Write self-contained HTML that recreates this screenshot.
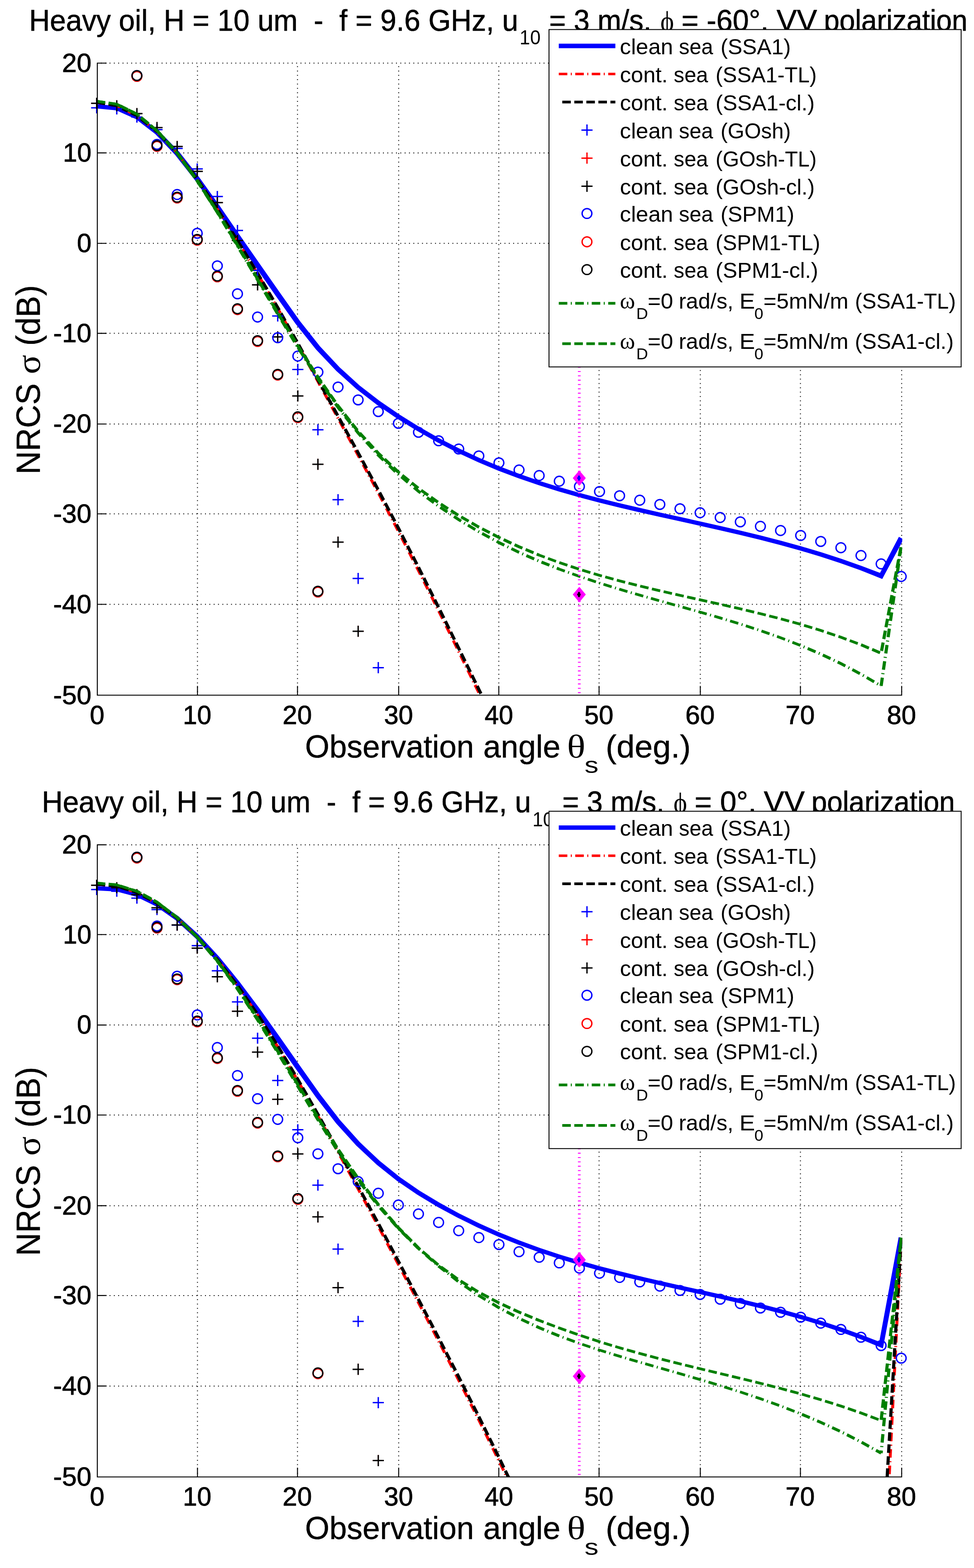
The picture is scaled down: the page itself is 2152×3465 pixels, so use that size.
<!DOCTYPE html>
<html lang="en"><head><meta charset="utf-8"><title>NRCS vs observation angle</title>
<style>html,body{margin:0;padding:0;background:#fff}svg text{fill:#000}</style></head>
<body>
<svg width="2152" height="3465" viewBox="0 0 2152 3465" style="display:block">
<rect width="2152" height="3465" fill="#fff"/>
<g id="plot1">
<clipPath id="clip1"><rect x="214.0" y="138.5" width="1779.4" height="1398.3"/></clipPath>
<path d="M436.3,1536.3V139.5M657.3,1536.3V139.5M880.9,1536.3V139.5M1102.1,1536.3V139.5M1323.6,1536.3V139.5M1547.3,1536.3V139.5M1768.5,1536.3V139.5M1992.2,1536.3V139.5" stroke="#000" stroke-width="2" stroke-dasharray="2 7.59" stroke-dashoffset="2.6" fill="none"/>
<path d="M215.0,1335.5H1992.2M215.0,1135.5H1992.2M215.0,937.0H1992.2M215.0,736.6H1992.2M215.0,537.7H1992.2M215.0,337.9H1992.2M215.0,139.5H1992.2" stroke="#000" stroke-width="2" stroke-dasharray="2 7.59" stroke-dashoffset="1.8" fill="none"/>
<g clip-path="url(#clip1)">
<path d="M213.2,239.6 L256.8,243.8 L299.9,263.1 L343.4,296.4 L387.1,342.4 L431.2,398.8 L475.5,460.8 L519.9,525.6 L564.4,589.6 L608.8,653.2 L653.4,716.0 L698.2,772.3 L743.1,819.7 L787.9,860.0 L832.7,894.5 L877.4,924.9 L922.1,952.6 L966.7,977.8 L1011.3,1000.6 L1056.0,1021.2 L1100.6,1039.9 L1145.2,1056.7 L1189.8,1072.0 L1234.3,1085.9 L1278.9,1098.7 L1323.4,1110.4 L1367.9,1121.4 L1412.4,1131.9 L1456.9,1141.9 L1501.3,1151.8 L1545.8,1161.7 L1590.2,1171.7 L1634.6,1182.0 L1679.0,1192.7 L1723.3,1204.2 L1767.7,1216.5 L1812.0,1229.7 L1856.3,1244.2 L1900.6,1259.9 L1949.3,1279.4 L1996.3,1191.6 L1986.1,1186.2 L1944.3,1266.0 L1904.0,1250.8 L1859.4,1235.0 L1814.9,1220.6 L1770.3,1207.3 L1725.8,1195.0 L1681.3,1183.5 L1636.8,1172.7 L1592.3,1162.4 L1547.8,1152.4 L1503.4,1142.6 L1459.0,1132.7 L1414.5,1122.6 L1370.2,1112.2 L1325.8,1101.2 L1281.4,1089.5 L1237.1,1076.8 L1192.8,1062.9 L1148.5,1047.6 L1104.2,1030.8 L1059.9,1012.2 L1015.7,991.6 L971.5,968.9 L927.2,943.8 L883.0,916.3 L838.8,886.1 L794.7,851.9 L750.7,812.0 L706.7,764.9 L662.6,709.2 L618.3,646.6 L573.9,583.0 L529.4,519.0 L485.0,454.2 L440.4,392.0 L395.6,335.1 L350.5,288.4 L305.1,254.3 L259.3,234.4 L214.0,230.2Z" fill="#0000ff" stroke="none"/>
<path d="M213.6,226.6 L258.0,233.8" fill="none" stroke="#ff0000" stroke-width="5.5" stroke-linejoin="miter" stroke-miterlimit="10" stroke-dasharray="18.9 7.6 2.3 7.6"/><path d="M258.0,233.8 L302.5,255.7 L346.9,290.9" fill="none" stroke="#ff0000" stroke-width="6.0" stroke-linejoin="miter" stroke-miterlimit="10" stroke-dasharray="18.9 7.6 2.3 7.6" stroke-dashoffset="8.6"/><path d="M346.9,290.9 L391.4,338.4 L435.8,396.5 L480.2,462.4 L524.7,532.7 L569.1,605.4 L613.6,681.6 L658.0,761.4 L702.4,842.7 L746.9,924.2 L791.3,1006.1 L835.8,1089.0 L880.2,1174.0 L924.6,1260.8 L969.1,1349.5 L1013.5,1439.7 L1058.0,1530.8 L1102.4,1622.2 L1946.8,2700.0 L1991.2,1700.0" fill="none" stroke="#ff0000" stroke-width="6.5" stroke-linejoin="miter" stroke-miterlimit="10" stroke-dasharray="18.9 7.6 2.3 7.6" stroke-dashoffset="5.7"/>
<path d="M213.6,226.6 L258.0,233.8" fill="none" stroke="#000000" stroke-width="6.0" stroke-linejoin="miter" stroke-miterlimit="10" stroke-dasharray="18.9 7.7"/><path d="M258.0,233.8 L302.5,255.7 L346.9,290.9" fill="none" stroke="#000000" stroke-width="6.5" stroke-linejoin="miter" stroke-miterlimit="10" stroke-dasharray="18.9 7.7" stroke-dashoffset="18.4"/><path d="M346.9,290.9 L391.4,338.4 L435.8,396.5 L480.2,461.9 L524.7,531.7 L569.1,603.9 L613.6,679.6 L658.0,758.6 L702.4,839.2 L746.9,919.7 L791.3,1000.6 L835.8,1082.8 L880.2,1167.0 L924.6,1253.7 L969.1,1342.4 L1013.5,1432.5 L1058.0,1523.5 L1102.4,1614.9 L1946.8,2600.0 L1991.2,1700.0" fill="none" stroke="#000000" stroke-width="7.0" stroke-linejoin="miter" stroke-miterlimit="10" stroke-dasharray="18.9 7.7" stroke-dashoffset="18.3"/>
</g>
<path d="M201.3,238.3H225.9M213.6,226.0V250.6" stroke="#0000ff" stroke-width="3.0" fill="none"/><path d="M245.7,240.6H270.3M258.0,228.3V252.9" stroke="#0000ff" stroke-width="3.0" fill="none"/><path d="M290.2,258.7H314.8M302.5,246.4V271.0" stroke="#0000ff" stroke-width="3.0" fill="none"/><path d="M334.6,286.5H359.2M346.9,274.2V298.8" stroke="#0000ff" stroke-width="3.0" fill="none"/><path d="M379.1,328.0H403.7M391.4,315.7V340.3" stroke="#0000ff" stroke-width="3.0" fill="none"/><path d="M423.5,373.3H448.1M435.8,361.0V385.6" stroke="#0000ff" stroke-width="3.0" fill="none"/><path d="M467.9,434.3H492.5M480.2,422.0V446.6" stroke="#0000ff" stroke-width="3.0" fill="none"/><path d="M512.4,509.3H537.0M524.7,497.0V521.6" stroke="#0000ff" stroke-width="3.0" fill="none"/><path d="M556.8,597.4H581.4M569.1,585.1V609.7" stroke="#0000ff" stroke-width="3.0" fill="none"/><path d="M601.3,698.3H625.9M613.6,686.0V710.6" stroke="#0000ff" stroke-width="3.0" fill="none"/><path d="M645.7,816.4H670.3M658.0,804.1V828.7" stroke="#0000ff" stroke-width="3.0" fill="none"/><path d="M690.1,949.8H714.7M702.4,937.5V962.1" stroke="#0000ff" stroke-width="3.0" fill="none"/><path d="M734.6,1104.3H759.2M746.9,1092.0V1116.6" stroke="#0000ff" stroke-width="3.0" fill="none"/><path d="M779.0,1278.3H803.6M791.3,1266.0V1290.6" stroke="#0000ff" stroke-width="3.0" fill="none"/><path d="M823.5,1475.4H848.1M835.8,1463.1V1487.7" stroke="#0000ff" stroke-width="3.0" fill="none"/><path d="M201.3,228.3H225.9M213.6,216.0V240.6" stroke="#ff0000" stroke-width="2.0" fill="none"/><path d="M245.7,233.8H270.3M258.0,221.5V246.1" stroke="#ff0000" stroke-width="2.0" fill="none"/><path d="M290.2,251.1H314.8M302.5,238.8V263.4" stroke="#ff0000" stroke-width="2.0" fill="none"/><path d="M334.6,281.9H359.2M346.9,269.6V294.2" stroke="#ff0000" stroke-width="2.0" fill="none"/><path d="M379.1,323.7H403.7M391.4,311.4V336.0" stroke="#ff0000" stroke-width="2.0" fill="none"/><path d="M423.5,378.7H448.1M435.8,366.4V391.0" stroke="#ff0000" stroke-width="2.0" fill="none"/><path d="M467.9,447.7H492.5M480.2,435.4V460.0" stroke="#ff0000" stroke-width="2.0" fill="none"/><path d="M512.4,531.6H537.0M524.7,519.3V543.9" stroke="#ff0000" stroke-width="2.0" fill="none"/><path d="M556.8,629.5H581.4M569.1,617.2V641.8" stroke="#ff0000" stroke-width="2.0" fill="none"/><path d="M601.3,744.5H625.9M613.6,732.2V756.8" stroke="#ff0000" stroke-width="2.0" fill="none"/><path d="M645.7,875.0H670.3M658.0,862.7V887.3" stroke="#ff0000" stroke-width="2.0" fill="none"/><path d="M690.1,1026.0H714.7M702.4,1013.7V1038.3" stroke="#ff0000" stroke-width="2.0" fill="none"/><path d="M734.6,1198.0H759.2M746.9,1185.7V1210.3" stroke="#ff0000" stroke-width="2.0" fill="none"/><path d="M779.0,1395.0H803.6M791.3,1382.7V1407.3" stroke="#ff0000" stroke-width="2.0" fill="none"/><path d="M201.3,228.3H225.9M213.6,216.0V240.6" stroke="#000000" stroke-width="3.0" fill="none"/><path d="M245.7,233.8H270.3M258.0,221.5V246.1" stroke="#000000" stroke-width="3.0" fill="none"/><path d="M290.2,251.1H314.8M302.5,238.8V263.4" stroke="#000000" stroke-width="3.0" fill="none"/><path d="M334.6,281.9H359.2M346.9,269.6V294.2" stroke="#000000" stroke-width="3.0" fill="none"/><path d="M379.1,323.7H403.7M391.4,311.4V336.0" stroke="#000000" stroke-width="3.0" fill="none"/><path d="M423.5,378.7H448.1M435.8,366.4V391.0" stroke="#000000" stroke-width="3.0" fill="none"/><path d="M467.9,447.7H492.5M480.2,435.4V460.0" stroke="#000000" stroke-width="3.0" fill="none"/><path d="M512.4,531.6H537.0M524.7,519.3V543.9" stroke="#000000" stroke-width="3.0" fill="none"/><path d="M556.8,629.5H581.4M569.1,617.2V641.8" stroke="#000000" stroke-width="3.0" fill="none"/><path d="M601.3,744.5H625.9M613.6,732.2V756.8" stroke="#000000" stroke-width="3.0" fill="none"/><path d="M645.7,875.0H670.3M658.0,862.7V887.3" stroke="#000000" stroke-width="3.0" fill="none"/><path d="M690.1,1026.0H714.7M702.4,1013.7V1038.3" stroke="#000000" stroke-width="3.0" fill="none"/><path d="M734.6,1198.0H759.2M746.9,1185.7V1210.3" stroke="#000000" stroke-width="3.0" fill="none"/><path d="M779.0,1395.0H803.6M791.3,1382.7V1407.3" stroke="#000000" stroke-width="3.0" fill="none"/><ellipse cx="302.5" cy="167.0" rx="10.8" ry="10.8" stroke="#0000ff" stroke-width="3.0" fill="none"/><ellipse cx="346.9" cy="319.0" rx="10.8" ry="10.8" stroke="#0000ff" stroke-width="3.0" fill="none"/><ellipse cx="391.4" cy="429.9" rx="10.8" ry="10.8" stroke="#0000ff" stroke-width="3.0" fill="none"/><ellipse cx="435.8" cy="515.5" rx="10.8" ry="10.8" stroke="#0000ff" stroke-width="3.0" fill="none"/><ellipse cx="480.2" cy="587.5" rx="10.8" ry="10.8" stroke="#0000ff" stroke-width="3.0" fill="none"/><ellipse cx="524.7" cy="649.3" rx="10.8" ry="10.8" stroke="#0000ff" stroke-width="3.0" fill="none"/><ellipse cx="569.1" cy="700.6" rx="10.8" ry="10.8" stroke="#0000ff" stroke-width="3.0" fill="none"/><ellipse cx="613.6" cy="746.2" rx="10.8" ry="10.8" stroke="#0000ff" stroke-width="3.0" fill="none"/><ellipse cx="658.0" cy="786.9" rx="10.8" ry="10.8" stroke="#0000ff" stroke-width="3.0" fill="none"/><ellipse cx="702.4" cy="822.3" rx="10.8" ry="10.8" stroke="#0000ff" stroke-width="3.0" fill="none"/><ellipse cx="746.9" cy="855.3" rx="10.8" ry="10.8" stroke="#0000ff" stroke-width="3.0" fill="none"/><ellipse cx="791.3" cy="883.7" rx="10.8" ry="10.8" stroke="#0000ff" stroke-width="3.0" fill="none"/><ellipse cx="835.8" cy="909.5" rx="10.8" ry="10.8" stroke="#0000ff" stroke-width="3.0" fill="none"/><ellipse cx="880.2" cy="935.5" rx="10.8" ry="10.8" stroke="#0000ff" stroke-width="3.0" fill="none"/><ellipse cx="924.6" cy="955.2" rx="10.8" ry="10.8" stroke="#0000ff" stroke-width="3.0" fill="none"/><ellipse cx="969.1" cy="974.0" rx="10.8" ry="10.8" stroke="#0000ff" stroke-width="3.0" fill="none"/><ellipse cx="1013.5" cy="992.2" rx="10.8" ry="10.8" stroke="#0000ff" stroke-width="3.0" fill="none"/><ellipse cx="1058.0" cy="1007.5" rx="10.8" ry="10.8" stroke="#0000ff" stroke-width="3.0" fill="none"/><ellipse cx="1102.4" cy="1022.8" rx="10.8" ry="10.8" stroke="#0000ff" stroke-width="3.0" fill="none"/><ellipse cx="1146.8" cy="1038.6" rx="10.8" ry="10.8" stroke="#0000ff" stroke-width="3.0" fill="none"/><ellipse cx="1191.3" cy="1050.9" rx="10.8" ry="10.8" stroke="#0000ff" stroke-width="3.0" fill="none"/><ellipse cx="1235.7" cy="1063.4" rx="10.8" ry="10.8" stroke="#0000ff" stroke-width="3.0" fill="none"/><ellipse cx="1280.2" cy="1075.0" rx="10.8" ry="10.8" stroke="#0000ff" stroke-width="3.0" fill="none"/><ellipse cx="1324.6" cy="1086.2" rx="10.8" ry="10.8" stroke="#0000ff" stroke-width="3.0" fill="none"/><ellipse cx="1369.0" cy="1095.5" rx="10.8" ry="10.8" stroke="#0000ff" stroke-width="3.0" fill="none"/><ellipse cx="1413.5" cy="1105.4" rx="10.8" ry="10.8" stroke="#0000ff" stroke-width="3.0" fill="none"/><ellipse cx="1457.9" cy="1114.7" rx="10.8" ry="10.8" stroke="#0000ff" stroke-width="3.0" fill="none"/><ellipse cx="1502.4" cy="1124.3" rx="10.8" ry="10.8" stroke="#0000ff" stroke-width="3.0" fill="none"/><ellipse cx="1546.8" cy="1133.1" rx="10.8" ry="10.8" stroke="#0000ff" stroke-width="3.0" fill="none"/><ellipse cx="1591.2" cy="1143.6" rx="10.8" ry="10.8" stroke="#0000ff" stroke-width="3.0" fill="none"/><ellipse cx="1635.7" cy="1153.2" rx="10.8" ry="10.8" stroke="#0000ff" stroke-width="3.0" fill="none"/><ellipse cx="1680.1" cy="1163.1" rx="10.8" ry="10.8" stroke="#0000ff" stroke-width="3.0" fill="none"/><ellipse cx="1724.6" cy="1172.4" rx="10.8" ry="10.8" stroke="#0000ff" stroke-width="3.0" fill="none"/><ellipse cx="1769.0" cy="1183.3" rx="10.8" ry="10.8" stroke="#0000ff" stroke-width="3.0" fill="none"/><ellipse cx="1813.4" cy="1196.5" rx="10.8" ry="10.8" stroke="#0000ff" stroke-width="3.0" fill="none"/><ellipse cx="1857.9" cy="1210.4" rx="10.8" ry="10.8" stroke="#0000ff" stroke-width="3.0" fill="none"/><ellipse cx="1902.3" cy="1227.6" rx="10.8" ry="10.8" stroke="#0000ff" stroke-width="3.0" fill="none"/><ellipse cx="1946.8" cy="1246.1" rx="10.8" ry="10.8" stroke="#0000ff" stroke-width="3.0" fill="none"/><ellipse cx="1991.2" cy="1273.9" rx="10.8" ry="10.8" stroke="#0000ff" stroke-width="3.0" fill="none"/><ellipse cx="302.5" cy="168.7" rx="10.8" ry="10.8" stroke="#ff0000" stroke-width="3.0" fill="none"/><ellipse cx="346.9" cy="323.4" rx="10.8" ry="10.8" stroke="#ff0000" stroke-width="3.0" fill="none"/><ellipse cx="391.4" cy="437.5" rx="10.8" ry="10.8" stroke="#ff0000" stroke-width="3.0" fill="none"/><ellipse cx="435.8" cy="530.7" rx="10.8" ry="10.8" stroke="#ff0000" stroke-width="3.0" fill="none"/><ellipse cx="480.2" cy="611.7" rx="10.8" ry="10.8" stroke="#ff0000" stroke-width="3.0" fill="none"/><ellipse cx="524.7" cy="684.1" rx="10.8" ry="10.8" stroke="#ff0000" stroke-width="3.0" fill="none"/><ellipse cx="569.1" cy="754.5" rx="10.8" ry="10.8" stroke="#ff0000" stroke-width="3.0" fill="none"/><ellipse cx="613.6" cy="828.9" rx="10.8" ry="10.8" stroke="#ff0000" stroke-width="3.0" fill="none"/><ellipse cx="658.0" cy="922.8" rx="10.8" ry="10.8" stroke="#ff0000" stroke-width="3.0" fill="none"/><ellipse cx="702.4" cy="1308.2" rx="10.8" ry="10.8" stroke="#ff0000" stroke-width="3.0" fill="none"/><ellipse cx="302.5" cy="167.0" rx="10.8" ry="10.8" stroke="#000000" stroke-width="3.0" fill="none"/><ellipse cx="346.9" cy="321.7" rx="10.8" ry="10.8" stroke="#000000" stroke-width="3.0" fill="none"/><ellipse cx="391.4" cy="435.8" rx="10.8" ry="10.8" stroke="#000000" stroke-width="3.0" fill="none"/><ellipse cx="435.8" cy="529.0" rx="10.8" ry="10.8" stroke="#000000" stroke-width="3.0" fill="none"/><ellipse cx="480.2" cy="610.0" rx="10.8" ry="10.8" stroke="#000000" stroke-width="3.0" fill="none"/><ellipse cx="524.7" cy="682.4" rx="10.8" ry="10.8" stroke="#000000" stroke-width="3.0" fill="none"/><ellipse cx="569.1" cy="752.8" rx="10.8" ry="10.8" stroke="#000000" stroke-width="3.0" fill="none"/><ellipse cx="613.6" cy="827.2" rx="10.8" ry="10.8" stroke="#000000" stroke-width="3.0" fill="none"/><ellipse cx="658.0" cy="921.1" rx="10.8" ry="10.8" stroke="#000000" stroke-width="3.0" fill="none"/><ellipse cx="702.4" cy="1306.5" rx="10.8" ry="10.8" stroke="#000000" stroke-width="3.0" fill="none"/>
<g clip-path="url(#clip1)">
<path d="M213.6,223.7 L258.0,230.5" fill="none" stroke="#007f00" stroke-width="6.0" stroke-linejoin="miter" stroke-miterlimit="10" stroke-dasharray="18.9 7.6 2.3 7.6"/><path d="M258.0,230.5 L302.5,252.4 L346.9,288.6" fill="none" stroke="#007f00" stroke-width="6.5" stroke-linejoin="miter" stroke-miterlimit="10" stroke-dasharray="18.9 7.6 2.3 7.6" stroke-dashoffset="8.6"/><path d="M346.9,288.6 L391.4,338.1 L435.8,399.5 L480.2,469.2 L524.7,543.2 L569.1,618.2 L613.6,693.6 L658.0,767.2 L702.4,836.5 L746.9,900.0 L791.3,956.6 L835.8,1005.6 L880.2,1048.3" fill="none" stroke="#007f00" stroke-width="7.0" stroke-linejoin="miter" stroke-miterlimit="10" stroke-dasharray="18.9 7.6 2.3 7.6" stroke-dashoffset="6.2"/><path d="M880.2,1048.3 L924.6,1085.6 L969.1,1118.6 L1013.5,1148.3 L1058.0,1175.0 L1102.4,1199.0 L1146.8,1220.6 L1191.3,1240.1 L1235.7,1257.7" fill="none" stroke="#007f00" stroke-width="6.5" stroke-linejoin="miter" stroke-miterlimit="10" stroke-dasharray="18.9 7.6 2.3 7.6" stroke-dashoffset="27.8"/><path d="M1235.7,1257.7 L1280.2,1273.7 L1324.6,1288.5 L1369.0,1302.2 L1413.5,1315.2 L1457.9,1327.8 L1502.4,1340.1 L1546.8,1352.6 L1591.2,1365.5 L1635.7,1379.0 L1680.1,1393.5 L1724.6,1409.2 L1769.0,1426.4" fill="none" stroke="#007f00" stroke-width="6.0" stroke-linejoin="miter" stroke-miterlimit="10" stroke-dasharray="18.9 7.6 2.3 7.6" stroke-dashoffset="5.9"/><path d="M1769.0,1426.4 L1813.4,1445.3 L1857.9,1466.4 L1902.3,1489.8 L1946.8,1515.8" fill="none" stroke="#007f00" stroke-width="6.5" stroke-linejoin="miter" stroke-miterlimit="10" stroke-dasharray="18.9 7.6 2.3 7.6" stroke-dashoffset="19.5"/><path d="M1946.8,1515.8 L1991.2,1206.0" fill="none" stroke="#007f00" stroke-width="7.0" stroke-linejoin="miter" stroke-miterlimit="10" stroke-dasharray="18.9 7.6 2.3 7.6" stroke-dashoffset="0.3"/>
<path d="M213.6,223.9 L258.0,230.1" fill="none" stroke="#007f00" stroke-width="6.0" stroke-linejoin="miter" stroke-miterlimit="10" stroke-dasharray="18.9 7.7"/><path d="M258.0,230.1 L302.5,252.3 L346.9,288.9" fill="none" stroke="#007f00" stroke-width="6.5" stroke-linejoin="miter" stroke-miterlimit="10" stroke-dasharray="18.9 7.7" stroke-dashoffset="18.3"/><path d="M346.9,288.9 L391.4,338.5 L435.8,399.3 L480.2,468.1 L524.7,541.5 L569.1,616.3 L613.6,691.2 L658.0,764.3 L702.4,833.5 L746.9,897.1 L791.3,953.4 L835.8,1001.7 L880.2,1043.2" fill="none" stroke="#007f00" stroke-width="7.0" stroke-linejoin="miter" stroke-miterlimit="10" stroke-dasharray="18.9 7.7" stroke-dashoffset="19.1"/><path d="M880.2,1043.2 L924.6,1079.1 L969.1,1110.8 L1013.5,1139.2 L1058.0,1164.8 L1102.4,1187.7 L1146.8,1208.3 L1191.3,1226.7" fill="none" stroke="#007f00" stroke-width="6.5" stroke-linejoin="miter" stroke-miterlimit="10" stroke-dasharray="18.9 7.7" stroke-dashoffset="15.4"/><path d="M1191.3,1226.7 L1235.7,1243.2 L1280.2,1258.0 L1324.6,1271.4 L1369.0,1283.7 L1413.5,1294.9 L1457.9,1305.5 L1502.4,1315.6 L1546.8,1325.5 L1591.2,1335.3 L1635.7,1345.4 L1680.1,1356.1 L1724.6,1367.4 L1769.0,1379.7 L1813.4,1393.2 L1857.9,1408.2 L1902.3,1424.8" fill="none" stroke="#007f00" stroke-width="6.0" stroke-linejoin="miter" stroke-miterlimit="10" stroke-dasharray="18.9 7.7" stroke-dashoffset="5.8"/><path d="M1902.3,1424.8 L1946.8,1443.4" fill="none" stroke="#007f00" stroke-width="6.5" stroke-linejoin="miter" stroke-miterlimit="10" stroke-dasharray="18.9 7.7" stroke-dashoffset="26.5"/><path d="M1946.8,1443.4 L1991.2,1206.0" fill="none" stroke="#007f00" stroke-width="7.0" stroke-linejoin="miter" stroke-miterlimit="10" stroke-dasharray="18.9 7.7" stroke-dashoffset="21.5"/>
</g>
<path d="M1279.9,139.5V1536.3" stroke="#ff00ff" stroke-width="6" stroke-dasharray="2.1 7.49" stroke-dashoffset="0.5" fill="none"/>
<path d="M1265.5,1056.5L1279.9,1039.4L1294.3,1056.5L1279.9,1073.6Z" fill="#ff00ff"/>
<path d="M1279.3,1050.9v11.2" stroke="#0000ff" stroke-width="4.4" fill="none"/><path d="M1275.3,1056.5h7.6" stroke="#0000ff" stroke-width="4" fill="none"/>
<path d="M1265.5,1313.8L1279.9,1296.7L1294.3,1313.8L1279.9,1330.9Z" fill="#ff00ff"/>
<path d="M1279.3,1308.2v11.2" stroke="#000000" stroke-width="4.4" fill="none"/><path d="M1275.3,1313.8h7.6" stroke="#000000" stroke-width="4" fill="none"/>
<path d="M215.0,139.5V1536.3H1992.2M215.0,1536.3v-19.5M436.3,1536.3v-19.5M657.3,1536.3v-19.5M880.9,1536.3v-19.5M1102.1,1536.3v-19.5M1323.6,1536.3v-19.5M1547.3,1536.3v-19.5M1768.5,1536.3v-19.5M1992.2,1536.3v-19.5M215.0,1536.3h19.5M215.0,1335.5h19.5M215.0,1135.5h19.5M215.0,937.0h19.5M215.0,736.6h19.5M215.0,537.7h19.5M215.0,337.9h19.5M215.0,139.5h19.5" stroke="#000" stroke-width="2.1" fill="none" stroke-linecap="square"/>
<text x="198.5" y="1599.9" font-size="57" font-family="'Liberation Sans', sans-serif" textLength="32.2" lengthAdjust="spacingAndGlyphs" stroke="#000" stroke-width="0.9" stroke-linejoin="round">0</text>
<text x="404.0" y="1599.9" font-size="57" font-family="'Liberation Sans', sans-serif" textLength="63.2" lengthAdjust="spacingAndGlyphs" stroke="#000" stroke-width="0.9" stroke-linejoin="round">10</text>
<text x="624.2" y="1599.9" font-size="57" font-family="'Liberation Sans', sans-serif" textLength="64.9" lengthAdjust="spacingAndGlyphs" stroke="#000" stroke-width="0.9" stroke-linejoin="round">20</text>
<text x="848.4" y="1599.9" font-size="57" font-family="'Liberation Sans', sans-serif" textLength="64.3" lengthAdjust="spacingAndGlyphs" stroke="#000" stroke-width="0.9" stroke-linejoin="round">30</text>
<text x="1070.8" y="1599.9" font-size="57" font-family="'Liberation Sans', sans-serif" textLength="63.1" lengthAdjust="spacingAndGlyphs" stroke="#000" stroke-width="0.9" stroke-linejoin="round">40</text>
<text x="1291.1" y="1599.9" font-size="57" font-family="'Liberation Sans', sans-serif" textLength="64.3" lengthAdjust="spacingAndGlyphs" stroke="#000" stroke-width="0.9" stroke-linejoin="round">50</text>
<text x="1514.2" y="1599.9" font-size="57" font-family="'Liberation Sans', sans-serif" textLength="64.9" lengthAdjust="spacingAndGlyphs" stroke="#000" stroke-width="0.9" stroke-linejoin="round">60</text>
<text x="1735.4" y="1599.9" font-size="57" font-family="'Liberation Sans', sans-serif" textLength="64.9" lengthAdjust="spacingAndGlyphs" stroke="#000" stroke-width="0.9" stroke-linejoin="round">70</text>
<text x="1959.4" y="1599.9" font-size="57" font-family="'Liberation Sans', sans-serif" textLength="64.6" lengthAdjust="spacingAndGlyphs" stroke="#000" stroke-width="0.9" stroke-linejoin="round">80</text>
<text x="117.5" y="1555.5" font-size="57" font-family="'Liberation Sans', sans-serif" textLength="84.6" lengthAdjust="spacingAndGlyphs" stroke="#000" stroke-width="0.9" stroke-linejoin="round">-50</text>
<text x="117.5" y="1354.7" font-size="57" font-family="'Liberation Sans', sans-serif" textLength="84.6" lengthAdjust="spacingAndGlyphs" stroke="#000" stroke-width="0.9" stroke-linejoin="round">-40</text>
<text x="117.5" y="1154.7" font-size="57" font-family="'Liberation Sans', sans-serif" textLength="84.6" lengthAdjust="spacingAndGlyphs" stroke="#000" stroke-width="0.9" stroke-linejoin="round">-30</text>
<text x="117.5" y="956.2" font-size="57" font-family="'Liberation Sans', sans-serif" textLength="84.6" lengthAdjust="spacingAndGlyphs" stroke="#000" stroke-width="0.9" stroke-linejoin="round">-20</text>
<text x="117.5" y="755.8" font-size="57" font-family="'Liberation Sans', sans-serif" textLength="84.6" lengthAdjust="spacingAndGlyphs" stroke="#000" stroke-width="0.9" stroke-linejoin="round">-10</text>
<text x="169.9" y="556.9" font-size="57" font-family="'Liberation Sans', sans-serif" textLength="32.2" lengthAdjust="spacingAndGlyphs" stroke="#000" stroke-width="0.9" stroke-linejoin="round">0</text>
<text x="138.9" y="357.1" font-size="57" font-family="'Liberation Sans', sans-serif" textLength="63.2" lengthAdjust="spacingAndGlyphs" stroke="#000" stroke-width="0.9" stroke-linejoin="round">10</text>
<text x="136.9" y="158.7" font-size="57" font-family="'Liberation Sans', sans-serif" textLength="65.3" lengthAdjust="spacingAndGlyphs" stroke="#000" stroke-width="0.9" stroke-linejoin="round">20</text>
<text x="673.9" y="1673.9" font-size="70.5" font-family="'Liberation Sans', sans-serif" textLength="373.5" lengthAdjust="spacingAndGlyphs" stroke="#000" stroke-width="0.5" stroke-linejoin="round">Observation</text>
<text x="1067.7" y="1673.9" font-size="70.5" font-family="'Liberation Sans', sans-serif" textLength="170.7" lengthAdjust="spacingAndGlyphs" stroke="#000" stroke-width="0.5" stroke-linejoin="round">angle</text>
<text x="1252.8" y="1673.9" font-size="72" font-family="'Liberation Serif', serif" textLength="40.7" lengthAdjust="spacingAndGlyphs">&#952;</text>
<text x="1291.6" y="1708.2" font-size="49.5" font-family="'Liberation Sans', sans-serif" textLength="30.8" lengthAdjust="spacingAndGlyphs">s</text>
<text x="1338.3" y="1673.9" font-size="70.5" font-family="'Liberation Sans', sans-serif" textLength="187.8" lengthAdjust="spacingAndGlyphs" stroke="#000" stroke-width="0.5" stroke-linejoin="round">(deg.)</text>
<g transform="translate(88.2,1042.5) rotate(-90)">
<text x="-5.7" y="0.0" font-size="74" font-family="'Liberation Sans', sans-serif" textLength="201.1" lengthAdjust="spacingAndGlyphs" stroke="#000" stroke-width="0.5" stroke-linejoin="round">NRCS</text>
<text x="215.8" y="0.0" font-size="74" font-family="'Liberation Serif', serif" textLength="42.8" lengthAdjust="spacingAndGlyphs">&#963;</text>
<text x="278.2" y="0.0" font-size="74" font-family="'Liberation Sans', sans-serif" textLength="134.1" lengthAdjust="spacingAndGlyphs" stroke="#000" stroke-width="0.5" stroke-linejoin="round">(dB)</text>
</g>
<text x="64.2" y="67.6" font-size="66" font-family="'Liberation Sans', sans-serif" textLength="1080.7" lengthAdjust="spacingAndGlyphs" stroke="#000" stroke-width="0.7" stroke-linejoin="round">Heavy oil, H = 10 um &#160;- &#160;f = 9.6 GHz, u</text>
<text x="1148.1" y="98.4" font-size="44" font-family="'Liberation Sans', sans-serif" textLength="46.4" lengthAdjust="spacingAndGlyphs">10</text>
<text x="1213.6" y="67.6" font-size="66" font-family="'Liberation Sans', sans-serif" textLength="225.6" lengthAdjust="spacingAndGlyphs" stroke="#000" stroke-width="0.7" stroke-linejoin="round">= 3 m/s,</text>
<text x="1459.0" y="67.6" font-size="64" font-family="'Liberation Serif', serif" textLength="30.1" lengthAdjust="spacingAndGlyphs">&#981;</text>
<text x="1505.8" y="67.6" font-size="66" font-family="'Liberation Sans', sans-serif" textLength="192.5" lengthAdjust="spacingAndGlyphs" stroke="#000" stroke-width="0.7" stroke-linejoin="round">= -60&#176;,</text>
<text x="1715.7" y="67.6" font-size="66" font-family="'Liberation Sans', sans-serif" textLength="89.7" lengthAdjust="spacingAndGlyphs" stroke="#000" stroke-width="0.7" stroke-linejoin="round">VV</text>
<text x="1820.3" y="67.6" font-size="66" font-family="'Liberation Sans', sans-serif" textLength="317.2" lengthAdjust="spacingAndGlyphs" stroke="#000" stroke-width="0.7" stroke-linejoin="round">polarization</text>
<rect x="1213" y="65.3" width="910.6" height="745.5" fill="#fff" stroke="#000" stroke-width="2"/>
<path d="M1234.6,101.5H1359.6" stroke="#0000ff" stroke-width="9.9" fill="none"/>
<path d="M1234.6,163.6H1359.6" stroke="#ff0000" stroke-width="5.5" fill="none" stroke-dasharray="18.9 7.6 2.3 7.6"/>
<path d="M1234.6,225.6H1359.6" stroke="#000000" stroke-width="6.0" fill="none" stroke-dasharray="18.9 7.7" stroke-dashoffset="18.9"/>
<path d="M1284.6,287.4H1309.2M1296.9,275.1V299.7" stroke="#0000ff" stroke-width="3.0" fill="none"/>
<path d="M1284.6,349.4H1309.2M1296.9,337.1V361.7" stroke="#ff0000" stroke-width="3.0" fill="none"/>
<path d="M1284.6,411.6H1309.2M1296.9,399.3V423.9" stroke="#000000" stroke-width="3.0" fill="none"/>
<ellipse cx="1296.9" cy="471.8" rx="10.8" ry="10.8" stroke="#0000ff" stroke-width="3.0" fill="none"/>
<ellipse cx="1296.9" cy="534.4" rx="10.8" ry="10.8" stroke="#ff0000" stroke-width="3.0" fill="none"/>
<ellipse cx="1296.9" cy="595.8" rx="10.8" ry="10.8" stroke="#000000" stroke-width="3.0" fill="none"/>
<path d="M1234.6,670.2H1359.6" stroke="#007f00" stroke-width="6.0" fill="none" stroke-dasharray="18.9 7.6 2.3 7.6"/>
<path d="M1234.6,759.5H1359.6" stroke="#007f00" stroke-width="6.0" fill="none" stroke-dasharray="18.9 7.7" stroke-dashoffset="18.9"/>
<text x="1369.6" y="119.6" font-size="47.6" font-family="'Liberation Sans', sans-serif" textLength="117.6" lengthAdjust="spacingAndGlyphs">clean</text>
<text x="1500.1" y="119.6" font-size="47.6" font-family="'Liberation Sans', sans-serif" textLength="75.6" lengthAdjust="spacingAndGlyphs">sea</text>
<text x="1591.9" y="119.6" font-size="47.6" font-family="'Liberation Sans', sans-serif" textLength="155.4" lengthAdjust="spacingAndGlyphs">(SSA1)</text>
<text x="1369.7" y="181.7" font-size="47.6" font-family="'Liberation Sans', sans-serif" textLength="105.7" lengthAdjust="spacingAndGlyphs">cont.</text>
<text x="1488.6" y="181.7" font-size="47.6" font-family="'Liberation Sans', sans-serif" textLength="75.9" lengthAdjust="spacingAndGlyphs">sea</text>
<text x="1581.1" y="181.7" font-size="47.6" font-family="'Liberation Sans', sans-serif" textLength="223.4" lengthAdjust="spacingAndGlyphs">(SSA1-TL)</text>
<text x="1369.7" y="243.7" font-size="47.6" font-family="'Liberation Sans', sans-serif" textLength="105.7" lengthAdjust="spacingAndGlyphs">cont.</text>
<text x="1488.6" y="243.7" font-size="47.6" font-family="'Liberation Sans', sans-serif" textLength="75.9" lengthAdjust="spacingAndGlyphs">sea</text>
<text x="1581.0" y="243.7" font-size="47.6" font-family="'Liberation Sans', sans-serif" textLength="219.1" lengthAdjust="spacingAndGlyphs">(SSA1-cl.)</text>
<text x="1369.6" y="305.5" font-size="47.6" font-family="'Liberation Sans', sans-serif" textLength="117.6" lengthAdjust="spacingAndGlyphs">clean</text>
<text x="1500.1" y="305.5" font-size="47.6" font-family="'Liberation Sans', sans-serif" textLength="75.6" lengthAdjust="spacingAndGlyphs">sea</text>
<text x="1592.0" y="305.5" font-size="47.6" font-family="'Liberation Sans', sans-serif" textLength="155.3" lengthAdjust="spacingAndGlyphs">(GOsh)</text>
<text x="1369.7" y="367.5" font-size="47.6" font-family="'Liberation Sans', sans-serif" textLength="105.7" lengthAdjust="spacingAndGlyphs">cont.</text>
<text x="1488.6" y="367.5" font-size="47.6" font-family="'Liberation Sans', sans-serif" textLength="75.9" lengthAdjust="spacingAndGlyphs">sea</text>
<text x="1581.1" y="367.5" font-size="47.6" font-family="'Liberation Sans', sans-serif" textLength="223.3" lengthAdjust="spacingAndGlyphs">(GOsh-TL)</text>
<text x="1369.7" y="429.7" font-size="47.6" font-family="'Liberation Sans', sans-serif" textLength="105.7" lengthAdjust="spacingAndGlyphs">cont.</text>
<text x="1488.6" y="429.7" font-size="47.6" font-family="'Liberation Sans', sans-serif" textLength="75.9" lengthAdjust="spacingAndGlyphs">sea</text>
<text x="1581.0" y="429.7" font-size="47.6" font-family="'Liberation Sans', sans-serif" textLength="219.0" lengthAdjust="spacingAndGlyphs">(GOsh-cl.)</text>
<text x="1369.6" y="489.9" font-size="47.6" font-family="'Liberation Sans', sans-serif" textLength="117.6" lengthAdjust="spacingAndGlyphs">clean</text>
<text x="1500.1" y="489.9" font-size="47.6" font-family="'Liberation Sans', sans-serif" textLength="75.6" lengthAdjust="spacingAndGlyphs">sea</text>
<text x="1591.9" y="489.9" font-size="47.6" font-family="'Liberation Sans', sans-serif" textLength="163.1" lengthAdjust="spacingAndGlyphs">(SPM1)</text>
<text x="1369.7" y="552.5" font-size="47.6" font-family="'Liberation Sans', sans-serif" textLength="105.7" lengthAdjust="spacingAndGlyphs">cont.</text>
<text x="1488.6" y="552.5" font-size="47.6" font-family="'Liberation Sans', sans-serif" textLength="75.9" lengthAdjust="spacingAndGlyphs">sea</text>
<text x="1581.1" y="552.5" font-size="47.6" font-family="'Liberation Sans', sans-serif" textLength="231.1" lengthAdjust="spacingAndGlyphs">(SPM1-TL)</text>
<text x="1369.7" y="613.9" font-size="47.6" font-family="'Liberation Sans', sans-serif" textLength="105.7" lengthAdjust="spacingAndGlyphs">cont.</text>
<text x="1488.6" y="613.9" font-size="47.6" font-family="'Liberation Sans', sans-serif" textLength="75.9" lengthAdjust="spacingAndGlyphs">sea</text>
<text x="1581.0" y="613.9" font-size="47.6" font-family="'Liberation Sans', sans-serif" textLength="226.8" lengthAdjust="spacingAndGlyphs">(SPM1-cl.)</text>
<text x="1369.6" y="681.5" font-size="49.6" font-family="'Liberation Serif', serif" textLength="33.7" lengthAdjust="spacingAndGlyphs">&#969;</text>
<text x="1405.7" y="704.7" font-size="35" font-family="'Liberation Sans', sans-serif" textLength="26.1" lengthAdjust="spacingAndGlyphs">D</text>
<text x="1430.9" y="681.5" font-size="47.6" font-family="'Liberation Sans', sans-serif" textLength="56.5" lengthAdjust="spacingAndGlyphs">=0</text>
<text x="1499.8" y="681.5" font-size="47.6" font-family="'Liberation Sans', sans-serif" textLength="120.7" lengthAdjust="spacingAndGlyphs">rad/s,</text>
<text x="1633.7" y="681.5" font-size="47.6" font-family="'Liberation Sans', sans-serif" textLength="34.4" lengthAdjust="spacingAndGlyphs">E</text>
<text x="1666.8" y="704.7" font-size="35" font-family="'Liberation Sans', sans-serif" textLength="19.7" lengthAdjust="spacingAndGlyphs">0</text>
<text x="1686.8" y="681.5" font-size="47.6" font-family="'Liberation Sans', sans-serif" textLength="187.7" lengthAdjust="spacingAndGlyphs">=5mN/m</text>
<text x="1888.9" y="681.5" font-size="47.6" font-family="'Liberation Sans', sans-serif" textLength="223.2" lengthAdjust="spacingAndGlyphs">(SSA1-TL)</text>
<text x="1369.6" y="770.8" font-size="49.6" font-family="'Liberation Serif', serif" textLength="33.7" lengthAdjust="spacingAndGlyphs">&#969;</text>
<text x="1405.7" y="794.0" font-size="35" font-family="'Liberation Sans', sans-serif" textLength="26.1" lengthAdjust="spacingAndGlyphs">D</text>
<text x="1430.9" y="770.8" font-size="47.6" font-family="'Liberation Sans', sans-serif" textLength="56.5" lengthAdjust="spacingAndGlyphs">=0</text>
<text x="1499.8" y="770.8" font-size="47.6" font-family="'Liberation Sans', sans-serif" textLength="120.7" lengthAdjust="spacingAndGlyphs">rad/s,</text>
<text x="1633.7" y="770.8" font-size="47.6" font-family="'Liberation Sans', sans-serif" textLength="34.4" lengthAdjust="spacingAndGlyphs">E</text>
<text x="1666.8" y="794.0" font-size="35" font-family="'Liberation Sans', sans-serif" textLength="19.7" lengthAdjust="spacingAndGlyphs">0</text>
<text x="1686.8" y="770.8" font-size="47.6" font-family="'Liberation Sans', sans-serif" textLength="187.7" lengthAdjust="spacingAndGlyphs">=5mN/m</text>
<text x="1888.8" y="770.8" font-size="47.6" font-family="'Liberation Sans', sans-serif" textLength="218.3" lengthAdjust="spacingAndGlyphs">(SSA1-cl.)</text>
</g>
<g id="plot2">
<clipPath id="clip2"><rect x="214.0" y="1865.9" width="1779.4" height="1398.3"/></clipPath>
<path d="M436.3,3263.7V1866.9M657.3,3263.7V1866.9M880.9,3263.7V1866.9M1102.1,3263.7V1866.9M1323.6,3263.7V1866.9M1547.3,3263.7V1866.9M1768.5,3263.7V1866.9M1992.2,3263.7V1866.9" stroke="#000" stroke-width="2" stroke-dasharray="2 7.59" stroke-dashoffset="2.6" fill="none"/>
<path d="M215.0,3062.9H1992.2M215.0,2862.9H1992.2M215.0,2664.4H1992.2M215.0,2464.0H1992.2M215.0,2265.1H1992.2M215.0,2065.3H1992.2M215.0,1866.9H1992.2" stroke="#000" stroke-width="2" stroke-dasharray="2 7.59" stroke-dashoffset="1.8" fill="none"/>
<g clip-path="url(#clip2)">
<path d="M213.4,1967.6 L257.3,1970.0 L300.8,1981.6 L344.4,2002.7 L388.1,2033.4 L432.0,2073.5 L476.0,2121.7 L520.2,2176.4 L564.5,2235.8 L608.8,2298.1 L653.3,2361.8 L697.8,2424.6 L742.5,2482.3 L787.4,2531.7 L832.3,2573.7 L877.1,2609.4 L921.9,2640.0 L966.6,2666.9 L1011.2,2691.0 L1055.9,2712.9 L1100.5,2732.7 L1145.1,2750.6 L1189.7,2766.8 L1234.3,2781.6 L1278.8,2795.0 L1323.4,2807.4 L1367.9,2818.9 L1412.4,2829.6 L1456.9,2839.9 L1501.3,2849.9 L1545.8,2859.8 L1590.2,2869.8 L1634.6,2880.1 L1679.0,2890.8 L1723.3,2902.3 L1767.7,2914.7 L1812.0,2928.1 L1856.3,2942.9 L1900.6,2959.1 L1950.8,2979.8 L1996.9,2736.1 L1985.5,2733.9 L1942.7,2965.0 L1904.1,2950.0 L1859.5,2933.7 L1814.9,2919.0 L1770.3,2905.5 L1725.8,2893.1 L1681.3,2881.6 L1636.8,2870.8 L1592.3,2860.5 L1547.8,2850.5 L1503.4,2840.7 L1459.0,2830.7 L1414.6,2820.4 L1370.2,2809.6 L1325.8,2798.2 L1281.5,2785.8 L1237.2,2772.4 L1192.9,2757.7 L1148.6,2741.5 L1104.3,2723.7 L1060.1,2703.9 L1015.8,2682.2 L971.6,2658.1 L927.4,2631.4 L883.3,2601.0 L839.2,2565.6 L795.2,2524.1 L751.2,2475.0 L707.1,2417.7 L662.7,2355.1 L618.3,2291.5 L573.8,2229.0 L529.2,2169.4 L484.5,2114.4 L439.6,2065.8 L394.6,2025.1 L349.5,1993.9 L304.2,1972.4 L258.8,1960.5 L213.8,1958.2Z" fill="#0000ff" stroke="none"/>
<path d="M213.6,1954.3 L258.0,1958.6 L302.5,1972.6" fill="none" stroke="#ff0000" stroke-width="5.5" stroke-linejoin="miter" stroke-miterlimit="10" stroke-dasharray="18.9 7.6 2.3 7.6"/><path d="M302.5,1972.6 L346.9,1996.0 L391.4,2028.8" fill="none" stroke="#ff0000" stroke-width="6.0" stroke-linejoin="miter" stroke-miterlimit="10" stroke-dasharray="18.9 7.6 2.3 7.6" stroke-dashoffset="18.4"/><path d="M391.4,2028.8 L435.8,2070.5 L480.2,2120.9 L524.7,2178.7 L569.1,2243.1 L613.6,2313.2 L658.0,2388.1 L702.4,2466.0 L746.9,2545.8 L791.3,2627.2 L835.8,2709.9 L880.2,2794.1 L924.6,2878.5 L969.1,2963.6 L1013.5,3049.9 L1058.0,3137.9 L1102.4,3228.0 L1146.8,3320.4" fill="none" stroke="#ff0000" stroke-width="6.5" stroke-linejoin="miter" stroke-miterlimit="10" stroke-dasharray="18.9 7.6 2.3 7.6" stroke-dashoffset="14.7"/><path d="M1146.8,3320.4 L1946.8,3617.0" fill="none" stroke="#ff0000" stroke-width="5.5" stroke-linejoin="miter" stroke-miterlimit="10" stroke-dasharray="18.9 7.6 2.3 7.6" stroke-dashoffset="24.6"/><path d="M1946.8,3617.0 L1991.2,2735.0" fill="none" stroke="#ff0000" stroke-width="6.5" stroke-linejoin="miter" stroke-miterlimit="10" stroke-dasharray="18.9 7.6 2.3 7.6" stroke-dashoffset="4.1"/>
<path d="M213.6,1954.3 L258.0,1958.6 L302.5,1972.6" fill="none" stroke="#000000" stroke-width="6.0" stroke-linejoin="miter" stroke-miterlimit="10" stroke-dasharray="18.9 7.7"/><path d="M302.5,1972.6 L346.9,1996.0 L391.4,2028.8" fill="none" stroke="#000000" stroke-width="6.5" stroke-linejoin="miter" stroke-miterlimit="10" stroke-dasharray="18.9 7.7" stroke-dashoffset="11.4"/><path d="M391.4,2028.8 L435.8,2070.5 L480.2,2120.4 L524.7,2177.7 L569.1,2241.6 L613.6,2311.2 L658.0,2385.4 L702.4,2462.5 L746.9,2541.3 L791.3,2621.7 L835.8,2703.7 L880.2,2787.1 L924.6,2871.4 L969.1,2956.5 L1013.5,3042.6 L1058.0,3130.6 L1102.4,3220.6 L1146.8,3312.9" fill="none" stroke="#000000" stroke-width="7.0" stroke-linejoin="miter" stroke-miterlimit="10" stroke-dasharray="18.9 7.7" stroke-dashoffset="10.5"/><path d="M1146.8,3312.9 L1946.8,3491.0" fill="none" stroke="#000000" stroke-width="6.0" stroke-linejoin="miter" stroke-miterlimit="10" stroke-dasharray="18.9 7.7" stroke-dashoffset="16.8"/><path d="M1946.8,3491.0 L1991.2,2735.0" fill="none" stroke="#000000" stroke-width="7.0" stroke-linejoin="miter" stroke-miterlimit="10" stroke-dasharray="18.9 7.7" stroke-dashoffset="11.7"/>
</g>
<path d="M201.3,1965.8H225.9M213.6,1953.5V1978.1" stroke="#0000ff" stroke-width="3.0" fill="none"/><path d="M245.7,1969.5H270.3M258.0,1957.2V1981.8" stroke="#0000ff" stroke-width="3.0" fill="none"/><path d="M290.2,1984.8H314.8M302.5,1972.5V1997.1" stroke="#0000ff" stroke-width="3.0" fill="none"/><path d="M334.6,2009.9H359.2M346.9,1997.6V2022.2" stroke="#0000ff" stroke-width="3.0" fill="none"/><path d="M379.1,2044.2H403.7M391.4,2031.9V2056.5" stroke="#0000ff" stroke-width="3.0" fill="none"/><path d="M423.5,2089.7H448.1M435.8,2077.4V2102.0" stroke="#0000ff" stroke-width="3.0" fill="none"/><path d="M467.9,2145.3H492.5M480.2,2133.0V2157.6" stroke="#0000ff" stroke-width="3.0" fill="none"/><path d="M512.4,2213.9H537.0M524.7,2201.6V2226.2" stroke="#0000ff" stroke-width="3.0" fill="none"/><path d="M556.8,2294.2H581.4M569.1,2281.9V2306.5" stroke="#0000ff" stroke-width="3.0" fill="none"/><path d="M601.3,2387.8H625.9M613.6,2375.5V2400.1" stroke="#0000ff" stroke-width="3.0" fill="none"/><path d="M645.7,2496.6H670.3M658.0,2484.3V2508.9" stroke="#0000ff" stroke-width="3.0" fill="none"/><path d="M690.1,2619.0H714.7M702.4,2606.7V2631.3" stroke="#0000ff" stroke-width="3.0" fill="none"/><path d="M734.6,2760.2H759.2M746.9,2747.9V2772.5" stroke="#0000ff" stroke-width="3.0" fill="none"/><path d="M779.0,2920.0H803.6M791.3,2907.7V2932.3" stroke="#0000ff" stroke-width="3.0" fill="none"/><path d="M823.5,3099.6H848.1M835.8,3087.3V3111.9" stroke="#0000ff" stroke-width="3.0" fill="none"/><path d="M201.3,1956.3H225.9M213.6,1944.0V1968.6" stroke="#ff0000" stroke-width="2.0" fill="none"/><path d="M245.7,1961.8H270.3M258.0,1949.5V1974.1" stroke="#ff0000" stroke-width="2.0" fill="none"/><path d="M290.2,1977.1H314.8M302.5,1964.8V1989.4" stroke="#ff0000" stroke-width="2.0" fill="none"/><path d="M334.6,2005.9H359.2M346.9,1993.6V2018.2" stroke="#ff0000" stroke-width="2.0" fill="none"/><path d="M379.1,2044.1H403.7M391.4,2031.8V2056.4" stroke="#ff0000" stroke-width="2.0" fill="none"/><path d="M423.5,2095.2H448.1M435.8,2082.9V2107.5" stroke="#ff0000" stroke-width="2.0" fill="none"/><path d="M467.9,2158.5H492.5M480.2,2146.2V2170.8" stroke="#ff0000" stroke-width="2.0" fill="none"/><path d="M512.4,2234.7H537.0M524.7,2222.4V2247.0" stroke="#ff0000" stroke-width="2.0" fill="none"/><path d="M556.8,2325.0H581.4M569.1,2312.7V2337.3" stroke="#ff0000" stroke-width="2.0" fill="none"/><path d="M601.3,2429.2H625.9M613.6,2416.9V2441.5" stroke="#ff0000" stroke-width="2.0" fill="none"/><path d="M645.7,2549.9H670.3M658.0,2537.6V2562.2" stroke="#ff0000" stroke-width="2.0" fill="none"/><path d="M690.1,2689.1H714.7M702.4,2676.8V2701.4" stroke="#ff0000" stroke-width="2.0" fill="none"/><path d="M734.6,2845.5H759.2M746.9,2833.2V2857.8" stroke="#ff0000" stroke-width="2.0" fill="none"/><path d="M779.0,3025.9H803.6M791.3,3013.6V3038.2" stroke="#ff0000" stroke-width="2.0" fill="none"/><path d="M823.5,3227.6H848.1M835.8,3215.3V3239.9" stroke="#ff0000" stroke-width="2.0" fill="none"/><path d="M201.3,1956.3H225.9M213.6,1944.0V1968.6" stroke="#000000" stroke-width="3.0" fill="none"/><path d="M245.7,1961.8H270.3M258.0,1949.5V1974.1" stroke="#000000" stroke-width="3.0" fill="none"/><path d="M290.2,1977.1H314.8M302.5,1964.8V1989.4" stroke="#000000" stroke-width="3.0" fill="none"/><path d="M334.6,2005.9H359.2M346.9,1993.6V2018.2" stroke="#000000" stroke-width="3.0" fill="none"/><path d="M379.1,2044.1H403.7M391.4,2031.8V2056.4" stroke="#000000" stroke-width="3.0" fill="none"/><path d="M423.5,2095.2H448.1M435.8,2082.9V2107.5" stroke="#000000" stroke-width="3.0" fill="none"/><path d="M467.9,2158.5H492.5M480.2,2146.2V2170.8" stroke="#000000" stroke-width="3.0" fill="none"/><path d="M512.4,2234.7H537.0M524.7,2222.4V2247.0" stroke="#000000" stroke-width="3.0" fill="none"/><path d="M556.8,2325.0H581.4M569.1,2312.7V2337.3" stroke="#000000" stroke-width="3.0" fill="none"/><path d="M601.3,2429.2H625.9M613.6,2416.9V2441.5" stroke="#000000" stroke-width="3.0" fill="none"/><path d="M645.7,2549.9H670.3M658.0,2537.6V2562.2" stroke="#000000" stroke-width="3.0" fill="none"/><path d="M690.1,2689.1H714.7M702.4,2676.8V2701.4" stroke="#000000" stroke-width="3.0" fill="none"/><path d="M734.6,2845.5H759.2M746.9,2833.2V2857.8" stroke="#000000" stroke-width="3.0" fill="none"/><path d="M779.0,3025.9H803.6M791.3,3013.6V3038.2" stroke="#000000" stroke-width="3.0" fill="none"/><path d="M823.5,3227.6H848.1M835.8,3215.3V3239.9" stroke="#000000" stroke-width="3.0" fill="none"/><ellipse cx="302.5" cy="1894.4" rx="10.8" ry="10.8" stroke="#0000ff" stroke-width="3.0" fill="none"/><ellipse cx="346.9" cy="2046.4" rx="10.8" ry="10.8" stroke="#0000ff" stroke-width="3.0" fill="none"/><ellipse cx="391.4" cy="2157.3" rx="10.8" ry="10.8" stroke="#0000ff" stroke-width="3.0" fill="none"/><ellipse cx="435.8" cy="2242.9" rx="10.8" ry="10.8" stroke="#0000ff" stroke-width="3.0" fill="none"/><ellipse cx="480.2" cy="2314.9" rx="10.8" ry="10.8" stroke="#0000ff" stroke-width="3.0" fill="none"/><ellipse cx="524.7" cy="2376.7" rx="10.8" ry="10.8" stroke="#0000ff" stroke-width="3.0" fill="none"/><ellipse cx="569.1" cy="2428.0" rx="10.8" ry="10.8" stroke="#0000ff" stroke-width="3.0" fill="none"/><ellipse cx="613.6" cy="2473.6" rx="10.8" ry="10.8" stroke="#0000ff" stroke-width="3.0" fill="none"/><ellipse cx="658.0" cy="2514.3" rx="10.8" ry="10.8" stroke="#0000ff" stroke-width="3.0" fill="none"/><ellipse cx="702.4" cy="2549.7" rx="10.8" ry="10.8" stroke="#0000ff" stroke-width="3.0" fill="none"/><ellipse cx="746.9" cy="2582.7" rx="10.8" ry="10.8" stroke="#0000ff" stroke-width="3.0" fill="none"/><ellipse cx="791.3" cy="2611.1" rx="10.8" ry="10.8" stroke="#0000ff" stroke-width="3.0" fill="none"/><ellipse cx="835.8" cy="2636.9" rx="10.8" ry="10.8" stroke="#0000ff" stroke-width="3.0" fill="none"/><ellipse cx="880.2" cy="2662.9" rx="10.8" ry="10.8" stroke="#0000ff" stroke-width="3.0" fill="none"/><ellipse cx="924.6" cy="2682.6" rx="10.8" ry="10.8" stroke="#0000ff" stroke-width="3.0" fill="none"/><ellipse cx="969.1" cy="2701.4" rx="10.8" ry="10.8" stroke="#0000ff" stroke-width="3.0" fill="none"/><ellipse cx="1013.5" cy="2719.6" rx="10.8" ry="10.8" stroke="#0000ff" stroke-width="3.0" fill="none"/><ellipse cx="1058.0" cy="2734.9" rx="10.8" ry="10.8" stroke="#0000ff" stroke-width="3.0" fill="none"/><ellipse cx="1102.4" cy="2750.2" rx="10.8" ry="10.8" stroke="#0000ff" stroke-width="3.0" fill="none"/><ellipse cx="1146.8" cy="2766.0" rx="10.8" ry="10.8" stroke="#0000ff" stroke-width="3.0" fill="none"/><ellipse cx="1191.3" cy="2778.3" rx="10.8" ry="10.8" stroke="#0000ff" stroke-width="3.0" fill="none"/><ellipse cx="1235.7" cy="2790.8" rx="10.8" ry="10.8" stroke="#0000ff" stroke-width="3.0" fill="none"/><ellipse cx="1280.2" cy="2802.4" rx="10.8" ry="10.8" stroke="#0000ff" stroke-width="3.0" fill="none"/><ellipse cx="1324.6" cy="2813.6" rx="10.8" ry="10.8" stroke="#0000ff" stroke-width="3.0" fill="none"/><ellipse cx="1369.0" cy="2822.9" rx="10.8" ry="10.8" stroke="#0000ff" stroke-width="3.0" fill="none"/><ellipse cx="1413.5" cy="2832.8" rx="10.8" ry="10.8" stroke="#0000ff" stroke-width="3.0" fill="none"/><ellipse cx="1457.9" cy="2842.1" rx="10.8" ry="10.8" stroke="#0000ff" stroke-width="3.0" fill="none"/><ellipse cx="1502.4" cy="2851.7" rx="10.8" ry="10.8" stroke="#0000ff" stroke-width="3.0" fill="none"/><ellipse cx="1546.8" cy="2860.5" rx="10.8" ry="10.8" stroke="#0000ff" stroke-width="3.0" fill="none"/><ellipse cx="1591.2" cy="2871.0" rx="10.8" ry="10.8" stroke="#0000ff" stroke-width="3.0" fill="none"/><ellipse cx="1635.7" cy="2880.6" rx="10.8" ry="10.8" stroke="#0000ff" stroke-width="3.0" fill="none"/><ellipse cx="1680.1" cy="2890.5" rx="10.8" ry="10.8" stroke="#0000ff" stroke-width="3.0" fill="none"/><ellipse cx="1724.6" cy="2899.8" rx="10.8" ry="10.8" stroke="#0000ff" stroke-width="3.0" fill="none"/><ellipse cx="1769.0" cy="2910.7" rx="10.8" ry="10.8" stroke="#0000ff" stroke-width="3.0" fill="none"/><ellipse cx="1813.4" cy="2923.9" rx="10.8" ry="10.8" stroke="#0000ff" stroke-width="3.0" fill="none"/><ellipse cx="1857.9" cy="2937.8" rx="10.8" ry="10.8" stroke="#0000ff" stroke-width="3.0" fill="none"/><ellipse cx="1902.3" cy="2955.0" rx="10.8" ry="10.8" stroke="#0000ff" stroke-width="3.0" fill="none"/><ellipse cx="1946.8" cy="2973.5" rx="10.8" ry="10.8" stroke="#0000ff" stroke-width="3.0" fill="none"/><ellipse cx="1991.2" cy="3001.3" rx="10.8" ry="10.8" stroke="#0000ff" stroke-width="3.0" fill="none"/><ellipse cx="302.5" cy="1896.1" rx="10.8" ry="10.8" stroke="#ff0000" stroke-width="3.0" fill="none"/><ellipse cx="346.9" cy="2050.8" rx="10.8" ry="10.8" stroke="#ff0000" stroke-width="3.0" fill="none"/><ellipse cx="391.4" cy="2164.9" rx="10.8" ry="10.8" stroke="#ff0000" stroke-width="3.0" fill="none"/><ellipse cx="435.8" cy="2258.1" rx="10.8" ry="10.8" stroke="#ff0000" stroke-width="3.0" fill="none"/><ellipse cx="480.2" cy="2339.1" rx="10.8" ry="10.8" stroke="#ff0000" stroke-width="3.0" fill="none"/><ellipse cx="524.7" cy="2411.5" rx="10.8" ry="10.8" stroke="#ff0000" stroke-width="3.0" fill="none"/><ellipse cx="569.1" cy="2481.9" rx="10.8" ry="10.8" stroke="#ff0000" stroke-width="3.0" fill="none"/><ellipse cx="613.6" cy="2556.3" rx="10.8" ry="10.8" stroke="#ff0000" stroke-width="3.0" fill="none"/><ellipse cx="658.0" cy="2650.2" rx="10.8" ry="10.8" stroke="#ff0000" stroke-width="3.0" fill="none"/><ellipse cx="702.4" cy="3035.6" rx="10.8" ry="10.8" stroke="#ff0000" stroke-width="3.0" fill="none"/><ellipse cx="302.5" cy="1894.4" rx="10.8" ry="10.8" stroke="#000000" stroke-width="3.0" fill="none"/><ellipse cx="346.9" cy="2049.1" rx="10.8" ry="10.8" stroke="#000000" stroke-width="3.0" fill="none"/><ellipse cx="391.4" cy="2163.2" rx="10.8" ry="10.8" stroke="#000000" stroke-width="3.0" fill="none"/><ellipse cx="435.8" cy="2256.4" rx="10.8" ry="10.8" stroke="#000000" stroke-width="3.0" fill="none"/><ellipse cx="480.2" cy="2337.4" rx="10.8" ry="10.8" stroke="#000000" stroke-width="3.0" fill="none"/><ellipse cx="524.7" cy="2409.8" rx="10.8" ry="10.8" stroke="#000000" stroke-width="3.0" fill="none"/><ellipse cx="569.1" cy="2480.2" rx="10.8" ry="10.8" stroke="#000000" stroke-width="3.0" fill="none"/><ellipse cx="613.6" cy="2554.6" rx="10.8" ry="10.8" stroke="#000000" stroke-width="3.0" fill="none"/><ellipse cx="658.0" cy="2648.5" rx="10.8" ry="10.8" stroke="#000000" stroke-width="3.0" fill="none"/><ellipse cx="702.4" cy="3033.9" rx="10.8" ry="10.8" stroke="#000000" stroke-width="3.0" fill="none"/>
<g clip-path="url(#clip2)">
<path d="M213.6,1951.3 L258.0,1955.6 L302.5,1969.7" fill="none" stroke="#007f00" stroke-width="6.0" stroke-linejoin="miter" stroke-miterlimit="10" stroke-dasharray="18.9 7.6 2.3 7.6"/><path d="M302.5,1969.7 L346.9,1993.7 L391.4,2027.6" fill="none" stroke="#007f00" stroke-width="6.5" stroke-linejoin="miter" stroke-miterlimit="10" stroke-dasharray="18.9 7.6 2.3 7.6" stroke-dashoffset="18.5"/><path d="M391.4,2027.6 L435.8,2071.1 L480.2,2124.0 L524.7,2185.3 L569.1,2253.3 L613.6,2325.7 L658.0,2400.2 L702.4,2474.1 L746.9,2544.3 L791.3,2608.0 L835.8,2664.5 L880.2,2714.5 L924.6,2758.8" fill="none" stroke="#007f00" stroke-width="7.0" stroke-linejoin="miter" stroke-miterlimit="10" stroke-dasharray="18.9 7.6 2.3 7.6" stroke-dashoffset="15.6"/><path d="M924.6,2758.8 L969.1,2797.9 L1013.5,2832.5 L1058.0,2863.0 L1102.4,2889.8 L1146.8,2913.3 L1191.3,2934.0 L1235.7,2952.3" fill="none" stroke="#007f00" stroke-width="6.5" stroke-linejoin="miter" stroke-miterlimit="10" stroke-dasharray="18.9 7.6 2.3 7.6" stroke-dashoffset="14.1"/><path d="M1235.7,2952.3 L1280.2,2968.7 L1324.6,2983.5 L1369.0,2997.2 L1413.5,3010.2 L1457.9,3022.9 L1502.4,3035.7 L1546.8,3048.6 L1591.2,3062.0 L1635.7,3076.0 L1680.1,3090.9 L1724.6,3106.9 L1769.0,3124.2" fill="none" stroke="#007f00" stroke-width="6.0" stroke-linejoin="miter" stroke-miterlimit="10" stroke-dasharray="18.9 7.6 2.3 7.6" stroke-dashoffset="18.8"/><path d="M1769.0,3124.2 L1813.4,3143.1 L1857.9,3163.7 L1902.3,3186.3 L1946.8,3211.2" fill="none" stroke="#007f00" stroke-width="6.5" stroke-linejoin="miter" stroke-miterlimit="10" stroke-dasharray="18.9 7.6 2.3 7.6" stroke-dashoffset="33.3"/><path d="M1946.8,3211.2 L1991.2,2735.0" fill="none" stroke="#007f00" stroke-width="7.0" stroke-linejoin="miter" stroke-miterlimit="10" stroke-dasharray="18.9 7.6 2.3 7.6" stroke-dashoffset="13.0"/>
<path d="M213.6,1951.8 L258.0,1955.2 L302.5,1969.3" fill="none" stroke="#007f00" stroke-width="6.0" stroke-linejoin="miter" stroke-miterlimit="10" stroke-dasharray="18.9 7.7"/><path d="M302.5,1969.3 L346.9,1993.6 L391.4,2027.7" fill="none" stroke="#007f00" stroke-width="6.5" stroke-linejoin="miter" stroke-miterlimit="10" stroke-dasharray="18.9 7.7" stroke-dashoffset="11.4"/><path d="M391.4,2027.7 L435.8,2071.0 L480.2,2123.1 L524.7,2183.4 L569.1,2250.8 L613.6,2322.6 L658.0,2396.5 L702.4,2469.7 L746.9,2539.8 L791.3,2604.2 L835.8,2662.0 L880.2,2713.3 L924.6,2757.9" fill="none" stroke="#007f00" stroke-width="7.0" stroke-linejoin="miter" stroke-miterlimit="10" stroke-dasharray="18.9 7.7" stroke-dashoffset="11.6"/><path d="M924.6,2757.9 L969.1,2796.0 L1013.5,2828.3 L1058.0,2855.7 L1102.4,2879.1 L1146.8,2899.6 L1191.3,2917.9" fill="none" stroke="#007f00" stroke-width="6.5" stroke-linejoin="miter" stroke-miterlimit="10" stroke-dasharray="18.9 7.7" stroke-dashoffset="14.7"/><path d="M1191.3,2917.9 L1235.7,2934.7 L1280.2,2950.4 L1324.6,2964.9 L1369.0,2978.4 L1413.5,2990.9 L1457.9,3002.7 L1502.4,3013.9 L1546.8,3024.7 L1591.2,3035.3 L1635.7,3045.9 L1680.1,3056.8 L1724.6,3068.2 L1769.0,3080.2 L1813.4,3093.1 L1857.9,3107.1 L1902.3,3122.4 L1946.8,3139.2" fill="none" stroke="#007f00" stroke-width="6.0" stroke-linejoin="miter" stroke-miterlimit="10" stroke-dasharray="18.9 7.7" stroke-dashoffset="8.4"/><path d="M1946.8,3139.2 L1991.2,2735.0" fill="none" stroke="#007f00" stroke-width="7.0" stroke-linejoin="miter" stroke-miterlimit="10" stroke-dasharray="18.9 7.7" stroke-dashoffset="25.0"/>
</g>
<path d="M1279.9,1866.9V3263.7" stroke="#ff00ff" stroke-width="6" stroke-dasharray="2.1 7.49" stroke-dashoffset="0.5" fill="none"/>
<path d="M1265.5,2783.9L1279.9,2766.8L1294.3,2783.9L1279.9,2801.0Z" fill="#ff00ff"/>
<path d="M1279.3,2778.3v11.2" stroke="#0000ff" stroke-width="4.4" fill="none"/><path d="M1275.3,2783.9h7.6" stroke="#0000ff" stroke-width="4" fill="none"/>
<path d="M1265.5,3041.2L1279.9,3024.1L1294.3,3041.2L1279.9,3058.3Z" fill="#ff00ff"/>
<path d="M1279.3,3035.6v11.2" stroke="#000000" stroke-width="4.4" fill="none"/><path d="M1275.3,3041.2h7.6" stroke="#000000" stroke-width="4" fill="none"/>
<path d="M215.0,1866.9V3263.7H1992.2M215.0,3263.7v-19.5M436.3,3263.7v-19.5M657.3,3263.7v-19.5M880.9,3263.7v-19.5M1102.1,3263.7v-19.5M1323.6,3263.7v-19.5M1547.3,3263.7v-19.5M1768.5,3263.7v-19.5M1992.2,3263.7v-19.5M215.0,3263.7h19.5M215.0,3062.9h19.5M215.0,2862.9h19.5M215.0,2664.4h19.5M215.0,2464.0h19.5M215.0,2265.1h19.5M215.0,2065.3h19.5M215.0,1866.9h19.5" stroke="#000" stroke-width="2.1" fill="none" stroke-linecap="square"/>
<text x="198.5" y="3327.3" font-size="57" font-family="'Liberation Sans', sans-serif" textLength="32.2" lengthAdjust="spacingAndGlyphs" stroke="#000" stroke-width="0.9" stroke-linejoin="round">0</text>
<text x="404.0" y="3327.3" font-size="57" font-family="'Liberation Sans', sans-serif" textLength="63.2" lengthAdjust="spacingAndGlyphs" stroke="#000" stroke-width="0.9" stroke-linejoin="round">10</text>
<text x="624.2" y="3327.3" font-size="57" font-family="'Liberation Sans', sans-serif" textLength="64.9" lengthAdjust="spacingAndGlyphs" stroke="#000" stroke-width="0.9" stroke-linejoin="round">20</text>
<text x="848.4" y="3327.3" font-size="57" font-family="'Liberation Sans', sans-serif" textLength="64.3" lengthAdjust="spacingAndGlyphs" stroke="#000" stroke-width="0.9" stroke-linejoin="round">30</text>
<text x="1070.8" y="3327.3" font-size="57" font-family="'Liberation Sans', sans-serif" textLength="63.1" lengthAdjust="spacingAndGlyphs" stroke="#000" stroke-width="0.9" stroke-linejoin="round">40</text>
<text x="1291.1" y="3327.3" font-size="57" font-family="'Liberation Sans', sans-serif" textLength="64.3" lengthAdjust="spacingAndGlyphs" stroke="#000" stroke-width="0.9" stroke-linejoin="round">50</text>
<text x="1514.2" y="3327.3" font-size="57" font-family="'Liberation Sans', sans-serif" textLength="64.9" lengthAdjust="spacingAndGlyphs" stroke="#000" stroke-width="0.9" stroke-linejoin="round">60</text>
<text x="1735.4" y="3327.3" font-size="57" font-family="'Liberation Sans', sans-serif" textLength="64.9" lengthAdjust="spacingAndGlyphs" stroke="#000" stroke-width="0.9" stroke-linejoin="round">70</text>
<text x="1959.4" y="3327.3" font-size="57" font-family="'Liberation Sans', sans-serif" textLength="64.6" lengthAdjust="spacingAndGlyphs" stroke="#000" stroke-width="0.9" stroke-linejoin="round">80</text>
<text x="117.5" y="3282.9" font-size="57" font-family="'Liberation Sans', sans-serif" textLength="84.6" lengthAdjust="spacingAndGlyphs" stroke="#000" stroke-width="0.9" stroke-linejoin="round">-50</text>
<text x="117.5" y="3082.1" font-size="57" font-family="'Liberation Sans', sans-serif" textLength="84.6" lengthAdjust="spacingAndGlyphs" stroke="#000" stroke-width="0.9" stroke-linejoin="round">-40</text>
<text x="117.5" y="2882.1" font-size="57" font-family="'Liberation Sans', sans-serif" textLength="84.6" lengthAdjust="spacingAndGlyphs" stroke="#000" stroke-width="0.9" stroke-linejoin="round">-30</text>
<text x="117.5" y="2683.6" font-size="57" font-family="'Liberation Sans', sans-serif" textLength="84.6" lengthAdjust="spacingAndGlyphs" stroke="#000" stroke-width="0.9" stroke-linejoin="round">-20</text>
<text x="117.5" y="2483.2" font-size="57" font-family="'Liberation Sans', sans-serif" textLength="84.6" lengthAdjust="spacingAndGlyphs" stroke="#000" stroke-width="0.9" stroke-linejoin="round">-10</text>
<text x="169.9" y="2284.3" font-size="57" font-family="'Liberation Sans', sans-serif" textLength="32.2" lengthAdjust="spacingAndGlyphs" stroke="#000" stroke-width="0.9" stroke-linejoin="round">0</text>
<text x="138.9" y="2084.5" font-size="57" font-family="'Liberation Sans', sans-serif" textLength="63.2" lengthAdjust="spacingAndGlyphs" stroke="#000" stroke-width="0.9" stroke-linejoin="round">10</text>
<text x="136.9" y="1886.1" font-size="57" font-family="'Liberation Sans', sans-serif" textLength="65.3" lengthAdjust="spacingAndGlyphs" stroke="#000" stroke-width="0.9" stroke-linejoin="round">20</text>
<text x="673.9" y="3401.3" font-size="70.5" font-family="'Liberation Sans', sans-serif" textLength="373.5" lengthAdjust="spacingAndGlyphs" stroke="#000" stroke-width="0.5" stroke-linejoin="round">Observation</text>
<text x="1067.7" y="3401.3" font-size="70.5" font-family="'Liberation Sans', sans-serif" textLength="170.7" lengthAdjust="spacingAndGlyphs" stroke="#000" stroke-width="0.5" stroke-linejoin="round">angle</text>
<text x="1252.8" y="3401.3" font-size="72" font-family="'Liberation Serif', serif" textLength="40.7" lengthAdjust="spacingAndGlyphs">&#952;</text>
<text x="1291.6" y="3435.6" font-size="49.5" font-family="'Liberation Sans', sans-serif" textLength="30.8" lengthAdjust="spacingAndGlyphs">s</text>
<text x="1338.3" y="3401.3" font-size="70.5" font-family="'Liberation Sans', sans-serif" textLength="187.8" lengthAdjust="spacingAndGlyphs" stroke="#000" stroke-width="0.5" stroke-linejoin="round">(deg.)</text>
<g transform="translate(88.2,2769.9) rotate(-90)">
<text x="-5.7" y="0.0" font-size="74" font-family="'Liberation Sans', sans-serif" textLength="201.1" lengthAdjust="spacingAndGlyphs" stroke="#000" stroke-width="0.5" stroke-linejoin="round">NRCS</text>
<text x="215.8" y="0.0" font-size="74" font-family="'Liberation Serif', serif" textLength="42.8" lengthAdjust="spacingAndGlyphs">&#963;</text>
<text x="278.2" y="0.0" font-size="74" font-family="'Liberation Sans', sans-serif" textLength="134.1" lengthAdjust="spacingAndGlyphs" stroke="#000" stroke-width="0.5" stroke-linejoin="round">(dB)</text>
</g>
<text x="92.6" y="1795.0" font-size="66" font-family="'Liberation Sans', sans-serif" textLength="1080.7" lengthAdjust="spacingAndGlyphs" stroke="#000" stroke-width="0.7" stroke-linejoin="round">Heavy oil, H = 10 um &#160;- &#160;f = 9.6 GHz, u</text>
<text x="1176.5" y="1825.8" font-size="44" font-family="'Liberation Sans', sans-serif" textLength="46.4" lengthAdjust="spacingAndGlyphs">10</text>
<text x="1242.5" y="1795.0" font-size="66" font-family="'Liberation Sans', sans-serif" textLength="225.2" lengthAdjust="spacingAndGlyphs" stroke="#000" stroke-width="0.7" stroke-linejoin="round">= 3 m/s,</text>
<text x="1488.0" y="1795.0" font-size="64" font-family="'Liberation Serif', serif" textLength="30.1" lengthAdjust="spacingAndGlyphs">&#981;</text>
<text x="1534.8" y="1795.0" font-size="66" font-family="'Liberation Sans', sans-serif" textLength="136.4" lengthAdjust="spacingAndGlyphs" stroke="#000" stroke-width="0.7" stroke-linejoin="round">= 0&#176;,</text>
<text x="1687.4" y="1795.0" font-size="66" font-family="'Liberation Sans', sans-serif" textLength="90.5" lengthAdjust="spacingAndGlyphs" stroke="#000" stroke-width="0.7" stroke-linejoin="round">VV</text>
<text x="1792.7" y="1795.0" font-size="66" font-family="'Liberation Sans', sans-serif" textLength="317.1" lengthAdjust="spacingAndGlyphs" stroke="#000" stroke-width="0.7" stroke-linejoin="round">polarization</text>
<rect x="1213" y="1792.7" width="910.6" height="745.5" fill="#fff" stroke="#000" stroke-width="2"/>
<path d="M1234.6,1828.9H1359.6" stroke="#0000ff" stroke-width="9.9" fill="none"/>
<path d="M1234.6,1891.0H1359.6" stroke="#ff0000" stroke-width="5.5" fill="none" stroke-dasharray="18.9 7.6 2.3 7.6"/>
<path d="M1234.6,1953.0H1359.6" stroke="#000000" stroke-width="6.0" fill="none" stroke-dasharray="18.9 7.7" stroke-dashoffset="18.9"/>
<path d="M1284.6,2014.8H1309.2M1296.9,2002.5V2027.1" stroke="#0000ff" stroke-width="3.0" fill="none"/>
<path d="M1284.6,2076.8H1309.2M1296.9,2064.5V2089.1" stroke="#ff0000" stroke-width="3.0" fill="none"/>
<path d="M1284.6,2139.0H1309.2M1296.9,2126.7V2151.3" stroke="#000000" stroke-width="3.0" fill="none"/>
<ellipse cx="1296.9" cy="2199.2" rx="10.8" ry="10.8" stroke="#0000ff" stroke-width="3.0" fill="none"/>
<ellipse cx="1296.9" cy="2261.8" rx="10.8" ry="10.8" stroke="#ff0000" stroke-width="3.0" fill="none"/>
<ellipse cx="1296.9" cy="2323.2" rx="10.8" ry="10.8" stroke="#000000" stroke-width="3.0" fill="none"/>
<path d="M1234.6,2397.6H1359.6" stroke="#007f00" stroke-width="6.0" fill="none" stroke-dasharray="18.9 7.6 2.3 7.6"/>
<path d="M1234.6,2486.9H1359.6" stroke="#007f00" stroke-width="6.0" fill="none" stroke-dasharray="18.9 7.7" stroke-dashoffset="18.9"/>
<text x="1369.6" y="1847.0" font-size="47.6" font-family="'Liberation Sans', sans-serif" textLength="117.6" lengthAdjust="spacingAndGlyphs">clean</text>
<text x="1500.1" y="1847.0" font-size="47.6" font-family="'Liberation Sans', sans-serif" textLength="75.6" lengthAdjust="spacingAndGlyphs">sea</text>
<text x="1591.9" y="1847.0" font-size="47.6" font-family="'Liberation Sans', sans-serif" textLength="155.4" lengthAdjust="spacingAndGlyphs">(SSA1)</text>
<text x="1369.7" y="1909.1" font-size="47.6" font-family="'Liberation Sans', sans-serif" textLength="105.7" lengthAdjust="spacingAndGlyphs">cont.</text>
<text x="1488.6" y="1909.1" font-size="47.6" font-family="'Liberation Sans', sans-serif" textLength="75.9" lengthAdjust="spacingAndGlyphs">sea</text>
<text x="1581.1" y="1909.1" font-size="47.6" font-family="'Liberation Sans', sans-serif" textLength="223.4" lengthAdjust="spacingAndGlyphs">(SSA1-TL)</text>
<text x="1369.7" y="1971.1" font-size="47.6" font-family="'Liberation Sans', sans-serif" textLength="105.7" lengthAdjust="spacingAndGlyphs">cont.</text>
<text x="1488.6" y="1971.1" font-size="47.6" font-family="'Liberation Sans', sans-serif" textLength="75.9" lengthAdjust="spacingAndGlyphs">sea</text>
<text x="1581.0" y="1971.1" font-size="47.6" font-family="'Liberation Sans', sans-serif" textLength="219.1" lengthAdjust="spacingAndGlyphs">(SSA1-cl.)</text>
<text x="1369.6" y="2032.9" font-size="47.6" font-family="'Liberation Sans', sans-serif" textLength="117.6" lengthAdjust="spacingAndGlyphs">clean</text>
<text x="1500.1" y="2032.9" font-size="47.6" font-family="'Liberation Sans', sans-serif" textLength="75.6" lengthAdjust="spacingAndGlyphs">sea</text>
<text x="1592.0" y="2032.9" font-size="47.6" font-family="'Liberation Sans', sans-serif" textLength="155.3" lengthAdjust="spacingAndGlyphs">(GOsh)</text>
<text x="1369.7" y="2094.9" font-size="47.6" font-family="'Liberation Sans', sans-serif" textLength="105.7" lengthAdjust="spacingAndGlyphs">cont.</text>
<text x="1488.6" y="2094.9" font-size="47.6" font-family="'Liberation Sans', sans-serif" textLength="75.9" lengthAdjust="spacingAndGlyphs">sea</text>
<text x="1581.1" y="2094.9" font-size="47.6" font-family="'Liberation Sans', sans-serif" textLength="223.3" lengthAdjust="spacingAndGlyphs">(GOsh-TL)</text>
<text x="1369.7" y="2157.1" font-size="47.6" font-family="'Liberation Sans', sans-serif" textLength="105.7" lengthAdjust="spacingAndGlyphs">cont.</text>
<text x="1488.6" y="2157.1" font-size="47.6" font-family="'Liberation Sans', sans-serif" textLength="75.9" lengthAdjust="spacingAndGlyphs">sea</text>
<text x="1581.0" y="2157.1" font-size="47.6" font-family="'Liberation Sans', sans-serif" textLength="219.0" lengthAdjust="spacingAndGlyphs">(GOsh-cl.)</text>
<text x="1369.6" y="2217.3" font-size="47.6" font-family="'Liberation Sans', sans-serif" textLength="117.6" lengthAdjust="spacingAndGlyphs">clean</text>
<text x="1500.1" y="2217.3" font-size="47.6" font-family="'Liberation Sans', sans-serif" textLength="75.6" lengthAdjust="spacingAndGlyphs">sea</text>
<text x="1591.9" y="2217.3" font-size="47.6" font-family="'Liberation Sans', sans-serif" textLength="163.1" lengthAdjust="spacingAndGlyphs">(SPM1)</text>
<text x="1369.7" y="2279.9" font-size="47.6" font-family="'Liberation Sans', sans-serif" textLength="105.7" lengthAdjust="spacingAndGlyphs">cont.</text>
<text x="1488.6" y="2279.9" font-size="47.6" font-family="'Liberation Sans', sans-serif" textLength="75.9" lengthAdjust="spacingAndGlyphs">sea</text>
<text x="1581.1" y="2279.9" font-size="47.6" font-family="'Liberation Sans', sans-serif" textLength="231.1" lengthAdjust="spacingAndGlyphs">(SPM1-TL)</text>
<text x="1369.7" y="2341.3" font-size="47.6" font-family="'Liberation Sans', sans-serif" textLength="105.7" lengthAdjust="spacingAndGlyphs">cont.</text>
<text x="1488.6" y="2341.3" font-size="47.6" font-family="'Liberation Sans', sans-serif" textLength="75.9" lengthAdjust="spacingAndGlyphs">sea</text>
<text x="1581.0" y="2341.3" font-size="47.6" font-family="'Liberation Sans', sans-serif" textLength="226.8" lengthAdjust="spacingAndGlyphs">(SPM1-cl.)</text>
<text x="1369.6" y="2408.9" font-size="49.6" font-family="'Liberation Serif', serif" textLength="33.7" lengthAdjust="spacingAndGlyphs">&#969;</text>
<text x="1405.7" y="2432.1" font-size="35" font-family="'Liberation Sans', sans-serif" textLength="26.1" lengthAdjust="spacingAndGlyphs">D</text>
<text x="1430.9" y="2408.9" font-size="47.6" font-family="'Liberation Sans', sans-serif" textLength="56.5" lengthAdjust="spacingAndGlyphs">=0</text>
<text x="1499.8" y="2408.9" font-size="47.6" font-family="'Liberation Sans', sans-serif" textLength="120.7" lengthAdjust="spacingAndGlyphs">rad/s,</text>
<text x="1633.7" y="2408.9" font-size="47.6" font-family="'Liberation Sans', sans-serif" textLength="34.4" lengthAdjust="spacingAndGlyphs">E</text>
<text x="1666.8" y="2432.1" font-size="35" font-family="'Liberation Sans', sans-serif" textLength="19.7" lengthAdjust="spacingAndGlyphs">0</text>
<text x="1686.8" y="2408.9" font-size="47.6" font-family="'Liberation Sans', sans-serif" textLength="187.7" lengthAdjust="spacingAndGlyphs">=5mN/m</text>
<text x="1888.9" y="2408.9" font-size="47.6" font-family="'Liberation Sans', sans-serif" textLength="223.2" lengthAdjust="spacingAndGlyphs">(SSA1-TL)</text>
<text x="1369.6" y="2498.2" font-size="49.6" font-family="'Liberation Serif', serif" textLength="33.7" lengthAdjust="spacingAndGlyphs">&#969;</text>
<text x="1405.7" y="2521.4" font-size="35" font-family="'Liberation Sans', sans-serif" textLength="26.1" lengthAdjust="spacingAndGlyphs">D</text>
<text x="1430.9" y="2498.2" font-size="47.6" font-family="'Liberation Sans', sans-serif" textLength="56.5" lengthAdjust="spacingAndGlyphs">=0</text>
<text x="1499.8" y="2498.2" font-size="47.6" font-family="'Liberation Sans', sans-serif" textLength="120.7" lengthAdjust="spacingAndGlyphs">rad/s,</text>
<text x="1633.7" y="2498.2" font-size="47.6" font-family="'Liberation Sans', sans-serif" textLength="34.4" lengthAdjust="spacingAndGlyphs">E</text>
<text x="1666.8" y="2521.4" font-size="35" font-family="'Liberation Sans', sans-serif" textLength="19.7" lengthAdjust="spacingAndGlyphs">0</text>
<text x="1686.8" y="2498.2" font-size="47.6" font-family="'Liberation Sans', sans-serif" textLength="187.7" lengthAdjust="spacingAndGlyphs">=5mN/m</text>
<text x="1888.8" y="2498.2" font-size="47.6" font-family="'Liberation Sans', sans-serif" textLength="218.3" lengthAdjust="spacingAndGlyphs">(SSA1-cl.)</text>
</g>
</svg>
</body></html>
